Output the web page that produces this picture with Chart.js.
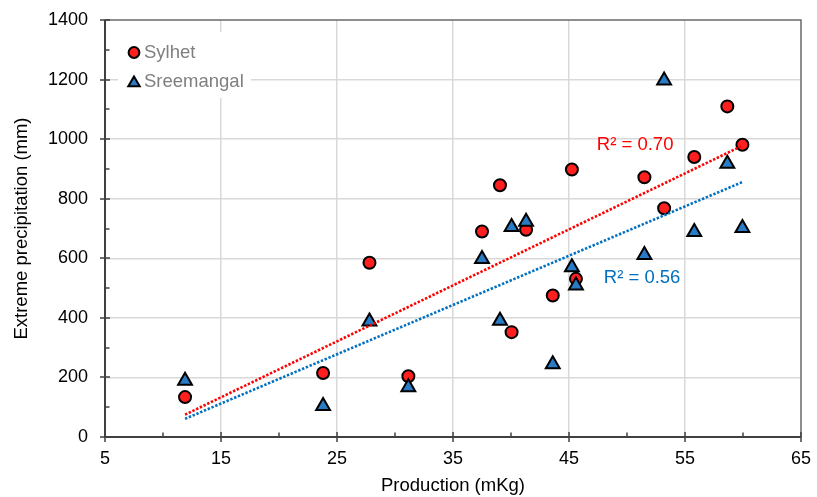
<!DOCTYPE html>
<html><head><meta charset="utf-8">
<script src="https://cdn.jsdelivr.net/npm/chart.js@4.4.1/dist/chart.umd.min.js"></script>
<style>html,body{margin:0;padding:0;background:#fff}canvas{display:block}</style>
</head><body>
<canvas id="c" width="817" height="497"></canvas>
<script>
// ---- data ----
const production = [11.9, 23.8, 27.8, 31.15, 37.5, 39.05, 40.05, 41.3, 43.6, 45.25, 45.6, 51.5, 53.2, 55.8, 58.65, 59.95];
const sylhet     = [134, 215, 585, 204, 690, 845, 352, 696, 475, 898, 531, 872, 768, 940, 1110, 981];
const sreemangal = [189, 104, 388, 167, 598, 390, 705, 723, 244, 570, 509, 611, 1197, 688, 917, 702];
const trendX          = [11.9, 59.95];
const trendSylhet     = [75, 978];
const trendSreemangal = [61, 856];
const seriesNames = ['Sylhet', 'Sreemangal'];
const r2Texts = ['R² = 0.70', 'R² = 0.56'];
const xTickRange = [5, 65, 10];
const yTickRange = [0, 1400, 200];

// ---- styles ----
const FONT = "'Liberation Sans', Arial, sans-serif";
const RED = '#ff1f1f', BLUE = '#2a7bc6', TREND_RED = '#ff0000', TREND_BLUE = '#0070c0';
const toPts = (xs, ys) => xs.map((v, i) => ({x: v, y: ys[i]}));

const framePlugin = {
  id: 'frame',
  afterDraw(chart) {
    const {ctx, chartArea: a, scales: {x, y}} = chart;
    ctx.save();
    // plot border top/right
    ctx.strokeStyle = '#6a6a6a'; ctx.lineWidth = 1.5;
    ctx.beginPath(); ctx.moveTo(a.left, a.top); ctx.lineTo(a.right, a.top); ctx.lineTo(a.right, a.bottom); ctx.stroke();
    // axes
    ctx.strokeStyle = '#404040'; ctx.lineWidth = 2;
    ctx.beginPath(); ctx.moveTo(a.left, a.top); ctx.lineTo(a.left, a.bottom); ctx.lineTo(a.right, a.bottom); ctx.stroke();
    // major / minor ticks
    ctx.lineWidth = 1.5;
    ctx.beginPath();
    const xt = x.ticks, yt = y.ticks;
    xt.forEach((t, i) => {
      const p = Math.round(x.getPixelForValue(t.value));
      ctx.moveTo(p, a.bottom - 5); ctx.lineTo(p, a.bottom + 5);
      if (i < xt.length - 1) {
        const m = Math.round(x.getPixelForValue((t.value + xt[i + 1].value) / 2));
        ctx.moveTo(m, a.bottom - 4.5); ctx.lineTo(m, a.bottom);
      }
    });
    yt.forEach((t, i) => {
      const p = Math.round(y.getPixelForValue(t.value));
      ctx.moveTo(a.left - 5, p); ctx.lineTo(a.left + 5, p);
      if (i < yt.length - 1) {
        const m = Math.round(y.getPixelForValue((t.value + yt[i + 1].value) / 2));
        ctx.moveTo(a.left, m); ctx.lineTo(a.left + 4.5, m);
      }
    });
    ctx.stroke();

    // legend (inside plot, white box)
    ctx.fillStyle = '#fff';
    ctx.fillRect(a.left + 13, a.top + 12, 133, 66);
    const lx = a.left + 29;
    ctx.lineWidth = 2; ctx.strokeStyle = '#000';
    ctx.fillStyle = RED;
    ctx.beginPath(); ctx.arc(lx, a.top + 32.5, 5.4, 0, Math.PI * 2); ctx.fill(); ctx.stroke();
    const ty = a.top + 63, r = 6.6;
    ctx.fillStyle = BLUE; ctx.lineJoin = 'miter';
    ctx.beginPath();
    for (let k = 0; k < 3; k++) {
      const ang = k * 2 * Math.PI / 3;
      const px = lx + Math.sin(ang) * r, py = ty - Math.cos(ang) * r;
      k === 0 ? ctx.moveTo(px, py) : ctx.lineTo(px, py);
    }
    ctx.closePath(); ctx.fill(); ctx.stroke();
    ctx.font = '18.5px ' + FONT; ctx.fillStyle = '#7f7f7f';
    ctx.textBaseline = 'middle'; ctx.textAlign = 'left';
    ctx.fillText(seriesNames[0], lx + 10, a.top + 32.5);
    ctx.fillText(seriesNames[1], lx + 10, a.top + 61.5);

    // R² labels (anchored in data space)
    ctx.fillStyle = TREND_RED;
    ctx.fillText(r2Texts[0], x.getPixelForValue(47.4), y.getPixelForValue(981));
    ctx.fillStyle = TREND_BLUE;
    ctx.fillText(r2Texts[1], x.getPixelForValue(48.0), y.getPixelForValue(534));
    ctx.restore();
  }
};

new Chart(document.getElementById('c'), {
  type: 'scatter',
  data: {
    datasets: [
      {type: 'line', label: 'trend ' + seriesNames[0], data: toPts(trendX, trendSylhet), order: 0,
       borderColor: TREND_RED, borderWidth: 2.6, borderDash: [2.4, 1.7], pointRadius: 0, fill: false, borderCapStyle: 'butt'},
      {type: 'line', label: 'trend ' + seriesNames[1], data: toPts(trendX, trendSreemangal), order: 0,
       borderColor: TREND_BLUE, borderWidth: 2.6, borderDash: [2.4, 1.7], pointRadius: 0, fill: false, borderCapStyle: 'butt'},
      {label: seriesNames[1], data: toPts(production, sreemangal), order: 1,
       pointStyle: 'triangle', pointRadius: 8, pointBorderWidth: 2,
       backgroundColor: BLUE, borderColor: '#000', pointBackgroundColor: BLUE, pointBorderColor: '#000'},
      {label: seriesNames[0], data: toPts(production, sylhet), order: 2,
       pointStyle: 'circle', pointRadius: 6, pointBorderWidth: 2,
       backgroundColor: RED, borderColor: '#000', pointBackgroundColor: RED, pointBorderColor: '#000'}
    ]
  },
  options: {
    responsive: false, animation: false, devicePixelRatio: 1,
    layout: {padding: {top: 20, right: 16, bottom: 0, left: 0}},
    plugins: {legend: {display: false}, tooltip: {enabled: false}},
    scales: {
      x: {
        type: 'linear', min: xTickRange[0], max: xTickRange[1],
        ticks: {stepSize: xTickRange[2], color: '#000', font: {family: FONT, size: 18}, padding: 11, maxRotation: 0,
                callback: v => String(v)},
        grid: {drawTicks: false, lineWidth: 1.5,
               color: c => (c.tick && c.tick.value > xTickRange[0] && c.tick.value < xTickRange[1]) ? '#d9d9d9' : 'rgba(0,0,0,0)'},
        border: {display: false},
        title: {display: true, text: 'Production (mKg)', color: '#000', font: {family: FONT, size: 18.5}, padding: {top: 0, bottom: 0}},
        afterFit: s => { s.height = 60; s.paddingLeft = 0; s.paddingRight = 0; }
      },
      y: {
        type: 'linear', min: yTickRange[0], max: yTickRange[1],
        ticks: {stepSize: yTickRange[2], color: '#000', font: {family: FONT, size: 18}, padding: 17,
                callback: v => String(v)},
        grid: {drawTicks: false, lineWidth: 1.5,
               color: c => (c.tick && c.tick.value > yTickRange[0] && c.tick.value < yTickRange[1]) ? '#d9d9d9' : 'rgba(0,0,0,0)'},
        border: {display: false},
        title: {display: true, text: 'Extreme precipitation (mm)', color: '#000', font: {family: FONT, size: 18.5}, padding: {top: 11, bottom: 0}},
        afterFit: s => { s.width = 105; s.paddingTop = 0; s.paddingBottom = 0; }
      }
    }
  },
  plugins: [framePlugin]
});
</script>
</body></html>
